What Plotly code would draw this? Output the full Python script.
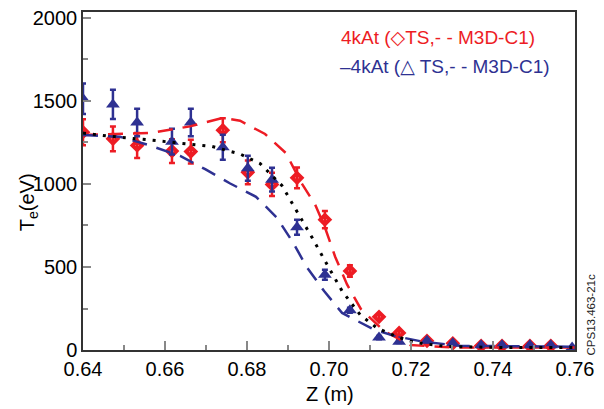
import plotly.graph_objects as go

# ---- data ----
z_ts = [0.6400, 0.6473, 0.6532, 0.6617, 0.6663, 0.6741, 0.6802, 0.6861, 0.6922, 0.6990,
        0.7051, 0.7122, 0.7171, 0.7239, 0.7302, 0.7371, 0.7422, 0.7490, 0.7541]
te_ts_pos = [1312, 1272, 1232, 1198, 1195, 1324, 1070, 997, 1037, 785,
             476, 200, 103, 55, 40, 25, 25, 25, 25]
err_ts_pos = [78, 75, 75, 72, 72, 72, 72, 70, 63, 52,
              35, 15, 12, 10, 8, 8, 8, 8, 8]

z_ts_neg = [0.6400, 0.6473, 0.6532, 0.6617, 0.6663, 0.6741, 0.6802, 0.6861, 0.6922, 0.6990,
            0.7051, 0.7122, 0.7171, 0.7239, 0.7302, 0.7371, 0.7422, 0.7490, 0.7541, 0.7593]
te_ts_neg = [1513, 1479, 1370, 1255, 1370, 1221, 1095, 1026, 739, 453,
             240, 75, 50, 55, 40, 28, 28, 28, 28, 15]
err_ts_neg = [92, 88, 83, 78, 83, 75, 75, 72, 45, 30,
              15, 10, 8, 8, 8, 8, 8, 8, 8, 8]

z_m3d_pos = [0.6400, 0.6563, 0.6661, 0.6741, 0.6783, 0.6844, 0.6895, 0.6932, 0.6966, 0.6990,
             0.7015, 0.7044, 0.7078, 0.7134, 0.7198, 0.7300, 0.7450, 0.7600]
te_m3d_pos = [1295, 1307, 1347, 1398, 1381, 1301, 1186, 1009, 877, 739,
              562, 395, 246, 115, 30, 15, 15, 15]

z_m3d_neg = [0.6400, 0.6490, 0.6556, 0.6637, 0.6698, 0.6759, 0.6822, 0.6873, 0.6912, 0.6946,
             0.6988, 0.7032, 0.7107, 0.7159, 0.7229, 0.7320, 0.7600]
te_m3d_neg = [1295, 1284, 1238, 1169, 1089, 1003, 923, 797, 648, 499,
              355, 223, 126, 85, 50, 25, 20]

z_fit = [0.6400, 0.6459, 0.6559, 0.6632, 0.6715, 0.6783, 0.6832, 0.6885, 0.6922, 0.6959,
         0.6995, 0.7032, 0.7076, 0.7117, 0.7166, 0.7210, 0.7283, 0.7417, 0.7600]
te_fit = [1307, 1289, 1266, 1249, 1226, 1181, 1123, 991, 837, 676,
          516, 355, 212, 132, 80, 45, 22, 15, 15]

x_ticks = [0.64, 0.66, 0.68, 0.70, 0.72, 0.74, 0.76]
x_tick_labels = ["0.64", "0.66", "0.68", "0.70", "0.72", "0.74", "0.76"]
y_ticks = [0, 500, 1000, 1500, 2000]

RED = "#ED1C24"
BLUE = "#2E3192"
FONT = "Arial, Liberation Sans, DejaVu Sans, sans-serif"

fig = go.Figure()

fig.add_trace(go.Scatter(
    x=z_ts, y=te_ts_pos, mode="markers",
    marker=dict(symbol="diamond-open", size=7, color=RED, line=dict(color=RED, width=4)),
    error_y=dict(type="data", array=err_ts_pos, color=RED, thickness=2.5, width=3),
    showlegend=False))

fig.add_trace(go.Scatter(
    x=z_ts_neg, y=te_ts_neg, mode="markers",
    marker=dict(symbol="triangle-up", size=12, color=BLUE, line=dict(width=0)),
    error_y=dict(type="data", array=err_ts_neg, color=BLUE, thickness=2.5, width=3),
    showlegend=False))

fig.add_trace(go.Scatter(
    x=z_m3d_pos, y=te_m3d_pos, mode="lines",
    line=dict(color=RED, width=2.5, dash="15px,10px"), showlegend=False))

fig.add_trace(go.Scatter(
    x=z_m3d_neg, y=te_m3d_neg, mode="lines",
    line=dict(color=BLUE, width=2.5, dash="15px,10px"), showlegend=False))

fig.add_trace(go.Scatter(
    x=z_fit, y=te_fit, mode="lines",
    line=dict(color="black", width=3, dash="3px,7px"), showlegend=False))

axis_common = dict(showgrid=False, zeroline=False, showline=True, linecolor="#333333",
                   linewidth=1.5, mirror=True, ticks="inside", tickcolor="#888888",
                   tickwidth=1.5, tickfont=dict(family=FONT, size=20, color="black"),
                   ticklabeloverflow="allow")

fig.update_xaxes(range=[0.64, 0.76], tickvals=x_ticks, ticktext=x_tick_labels, ticklen=9,
                 minor=dict(dtick=0.01, ticks="inside", ticklen=5, tickcolor="#888888", tickwidth=1.5),
                 **axis_common)
fig.update_yaxes(range=[0, 2036], tickvals=y_ticks, ticklen=8,
                 minor=dict(tickvals=[250, 750, 1250, 1750], ticks="inside", ticklen=5,
                            tickcolor="#888888", tickwidth=1.5),
                 **axis_common)

annotations = [
    dict(text="T<sub>e</sub>(eV)", x=-0.112, y=0.437, xref="paper", yref="paper",
         textangle=-90, showarrow=False, font=dict(family=FONT, size=20, color="black"),
         xanchor="center", yanchor="middle"),
    dict(text="Z (m)", x=0.502, y=-0.131, xref="paper", yref="paper", showarrow=False,
         font=dict(family=FONT, size=20, color="black"), xanchor="center", yanchor="middle"),
    dict(text="4kAt (\u25C7TS,- - M3D-C1)", x=0.520, y=0.924, xref="paper", yref="paper",
         showarrow=False, font=dict(family=FONT, size=19, color=RED),
         xanchor="left", yanchor="middle"),
    dict(text="\u20134kAt (\u25B3 TS,- - M3D-C1)", x=0.518, y=0.840, xref="paper", yref="paper",
         showarrow=False, font=dict(family=FONT, size=19, color=BLUE),
         xanchor="left", yanchor="middle"),
    dict(text="CPS13.463-21c", x=1.0325, y=0.105, xref="paper", yref="paper",
         textangle=-90, showarrow=False, font=dict(family=FONT, size=11.5, color="#222222"),
         xanchor="center", yanchor="middle"),
]

fig.update_layout(width=604, height=409, margin=dict(l=83, r=29, t=7, b=59),
                  paper_bgcolor="white", plot_bgcolor="white", annotations=annotations)

fig.write_html("out.html", config={"displayModeBar": False},
               post_script="document.body.style.margin='0px';")
